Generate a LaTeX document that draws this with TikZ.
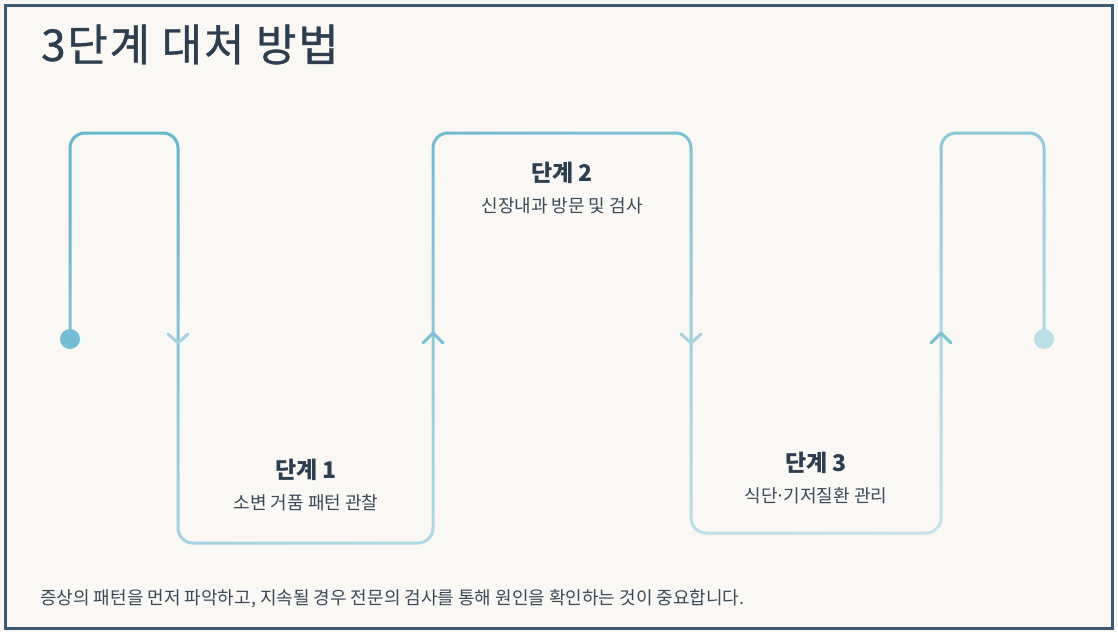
\documentclass[tikz,border=0pt]{standalone}
\usepackage{fontspec}
\setmainfont{Noto Sans CJK KR}
\usetikzlibrary{fadings}

\definecolor{framecol}{HTML}{3D5A75}
\definecolor{paper}{HTML}{FAF8F4}
\definecolor{ink}{HTML}{2C3E50}
\definecolor{inksoft}{HTML}{3A4958}
\definecolor{snakedark}{HTML}{65B7CF}
\definecolor{snakelight}{HTML}{C6E3EB}
\definecolor{chevdark}{HTML}{7AC2D5}
\definecolor{chevlight}{HTML}{A5D4E0}

\tikzset{
  chev/.style={line width=3pt,line cap=round,line join=round},
  stephead/.style={font=\fontsize{23}{27}\selectfont\bfseries,text=ink,inner sep=0pt},
  stepnote/.style={font=\fontsize{18}{22}\selectfont,text=inksoft,inner sep=0pt},
  dot/.style={circle,inner sep=0pt,minimum size=20pt}
}

% the winding line as a mask
\begin{tikzfadingfrompicture}[name=snakefade,x=1pt,y=-1pt]
  \path (0,0) rectangle (1118,632);
  \draw[transparent!0,line width=3pt,rounded corners=15pt]
    (70,339) -- (70,133) -- (178,133) -- (178,543) -- (433,543) -- (433,133)
    -- (691,133) -- (691,533) -- (941,533) -- (941,133) -- (1044,133) -- (1044,339);
\end{tikzfadingfrompicture}

\begin{document}
\begin{tikzpicture}[x=1pt,y=-1pt]
  \useasboundingbox (0,0) rectangle (1118,632);
  \fill[paper] (0,0) rectangle (1118,632);
  \draw[framecol,line width=3pt] (5.5,5.5) rectangle (1112.5,628.5);

  \node[anchor=base west,inner sep=0pt,text=ink,font=\fontsize{44}{52}\selectfont\addfontfeature{LetterSpace=4,FakeBold=0.8}] (title) at (41,61) {3단계 대처 방법};

  % line with gradient
  \shade[path fading=snakefade,fit fading=false,fading transform={shift={(559,316)}},
    top color=snakedark,bottom color=snakelight,shading angle=18] (55,118) rectangle (1060,558);

  \node[dot,fill=snakedark!85!snakelight] (start) at (70,339) {};
  \node[dot,fill=snakelight!90!snakedark] (finish) at (1044,339) {};

  \foreach \x/\c in {178/chevlight,691/chevlight} {
      \draw[chev,\c] (\x-10,334) -- (\x,343) -- (\x+10,334);
    }
  \foreach \x/\c in {433/chevdark,941/chevdark} {
      \draw[chev,\c] (\x-10,343) -- (\x,333) -- (\x+10,343);
    }

  \foreach \n/\x/\y/\t in {1/306/470/소변 거품 패턴 관찰,2/562/173/신장내과 방문 및 검사,3/816/463/식단\hspace{-0.12em}·\hspace{-0.12em}기저질환 관리} {
      \node[stephead] (head\n) at (\x,\y) {단계 \n};
      \node[stepnote] (note\n) at (\x,\y+33) {\t};
    }

  \node[anchor=base west,inner sep=0pt,text=inksoft,font=\fontsize{18}{22}\selectfont] (footer) at (40,604)
    {증상의 패턴을 먼저 파악하고, 지속될 경우 전문의 검사를 통해 원인을 확인하는 것이 중요합니다.};
\end{tikzpicture}
\end{document}
